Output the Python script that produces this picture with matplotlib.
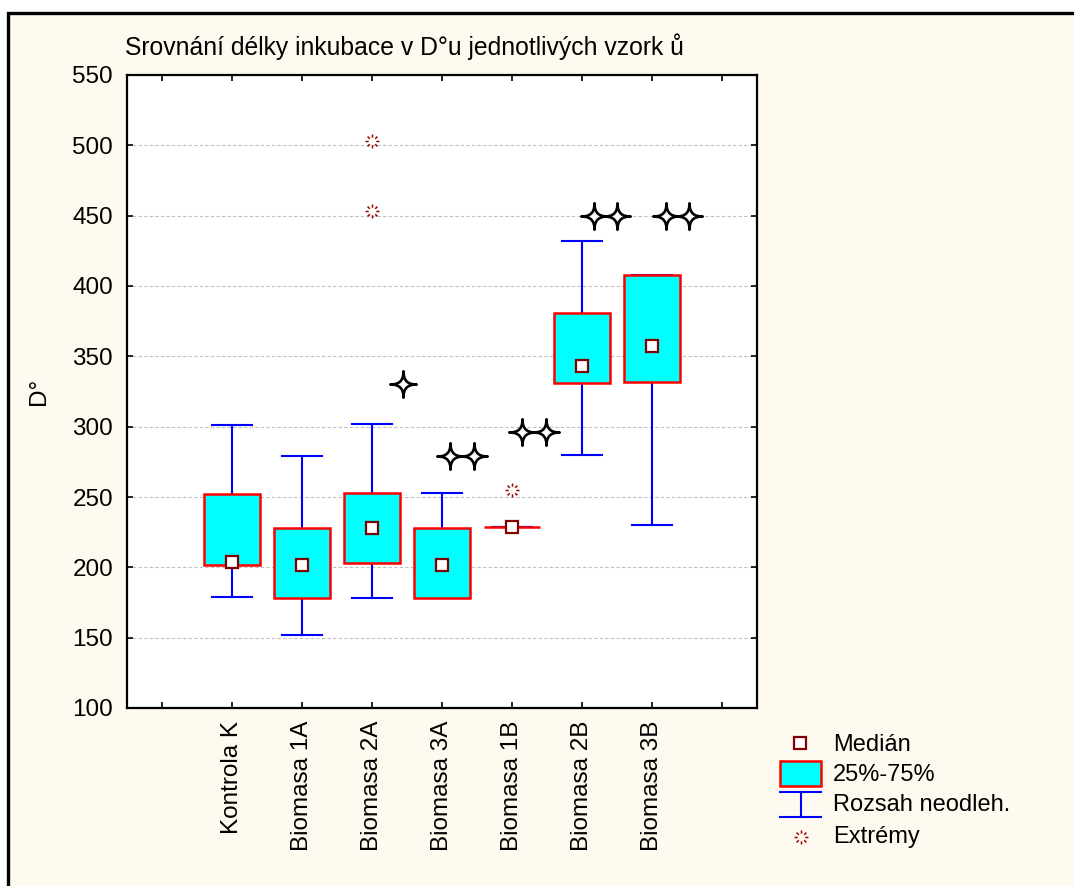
import numpy as np
import matplotlib
matplotlib.use("Agg")
import matplotlib.pyplot as plt
from matplotlib.path import Path
from matplotlib.patches import Rectangle
from matplotlib.lines import Line2D

plt.rcParams['font.family'] = ['Liberation Sans', 'DejaVu Sans']

# ---- data ----
categories = ['Kontrola K', 'Biomasa 1A', 'Biomasa 2A', 'Biomasa 3A',
              'Biomasa 1B', 'Biomasa 2B', 'Biomasa 3B']
medians = [204, 202, 228, 202, 229, 343, 357]
q1 = [202, 178, 203, 178, 229, 331, 332]
q3 = [252, 228, 253, 228, 229, 381, 408]
whisker_lo = [179, 152, 178, 178, 229, 280, 230]
whisker_hi = [301, 279, 302, 253, 229, 432, 408]
extremes = {'Biomasa 2A': [503, 453], 'Biomasa 1B': [255]}
# significance stars: group, horizontal offset (in category units), value
star_groups = ['Biomasa 2A', 'Biomasa 3A', 'Biomasa 3A', 'Biomasa 1B', 'Biomasa 1B',
               'Biomasa 2B', 'Biomasa 2B', 'Biomasa 3B', 'Biomasa 3B']
star_offsets = [0.44, 0.11, 0.46, 0.14, 0.48, 0.17, 0.50, 0.20, 0.53]
star_values = [330, 279, 279, 296, 296, 450, 450, 450, 450]
yticks = [100, 150, 200, 250, 300, 350, 400, 450, 500, 550]

W, H = 1074, 886
CREAM = '#FFFAF0'
FS = 17.5
fig = plt.figure(figsize=(W / 100, H / 100), dpi=100, facecolor='white')

def fx(px):
    return px / W

def fy(py):
    return 1 - py / H

# outer border/background
fig.add_artist(Rectangle((fx(8), -0.05), 1.2, fy(13) + 0.05, transform=fig.transFigure,
                         facecolor=CREAM, edgecolor='black', linewidth=2.4, zorder=-10))

ax = fig.add_axes([fx(127), fy(708), fx(757) - fx(127), fy(75) - fy(708)])
ax.set_facecolor('white')

# custom markers
k = 0.3
tips = [(0, 1), (1, 0), (0, -1), (-1, 0)]
sv = [tips[0]]
sc = [Path.MOVETO]
for i in range(4):
    p0 = np.array(tips[i], float)
    p1 = np.array(tips[(i + 1) % 4], float)
    sv += [tuple(p0 * k), tuple(p1 * k), tuple(p1)]
    sc += [Path.CURVE4, Path.CURVE4, Path.CURVE4]
sv.append(tips[0])
sc.append(Path.CLOSEPOLY)
star_path = Path(sv, sc)

verts, codes = [], []
for ang in np.deg2rad(np.arange(0, 360, 45)):
    verts += [(0.55 * np.cos(ang), 0.55 * np.sin(ang)), (1.0 * np.cos(ang), 1.0 * np.sin(ang))]
    codes += [Path.MOVETO, Path.LINETO]
burst_path = Path(verts, codes)

pos = np.arange(1, len(categories) + 1)
stats = []
for i, cat in enumerate(categories):
    stats.append(dict(med=medians[i], q1=q1[i], q3=q3[i], whislo=whisker_lo[i],
                      whishi=whisker_hi[i], fliers=extremes.get(cat, []), label=cat))

ax.bxp(stats, positions=pos, widths=0.8, capwidths=0.57, patch_artist=True,
       boxprops=dict(facecolor='#00FFFF', edgecolor='#FF0000', linewidth=1.8, zorder=3),
       whiskerprops=dict(color='#0000FF', linewidth=1.5, zorder=2),
       capprops=dict(color='#0000FF', linewidth=1.5, zorder=2),
       medianprops=dict(linewidth=0),
       flierprops=dict(marker=burst_path, markersize=10, markeredgecolor='#990000',
                       markerfacecolor='none', markeredgewidth=1.1, linestyle='none', zorder=4))

ax.plot(pos, medians, linestyle='none', marker='s', markersize=8.5,
        markerfacecolor='white', markeredgecolor='#800000', markeredgewidth=1.6, zorder=5)

star_x = [categories.index(g) + 1 + o for g, o in zip(star_groups, star_offsets)]
ax.plot(star_x, star_values, linestyle='none', marker=star_path, markersize=19,
        markerfacecolor='white', markeredgecolor='black', markeredgewidth=1.9, zorder=6)

ax.set_xlim(-0.5, 8.5)
ax.set_ylim(100, 550)
ax.set_xticks(np.arange(0, 9))
ax.set_xticklabels([''] + categories + [''], rotation=90, fontsize=FS)
ax.set_yticks(yticks)
ax.set_yticklabels([str(v) for v in yticks], fontsize=FS)
ax.tick_params(axis='both', direction='in', length=4, width=1.2, top=True, right=True)
ax.tick_params(axis='x', pad=9)
ax.tick_params(axis='y', pad=10)
ax.yaxis.grid(True, linestyle=(0, (3, 2)), color='#C0C0C0', linewidth=0.8, zorder=0)
ax.set_axisbelow(True)
for s in ax.spines.values():
    s.set_linewidth(1.6)
ax.set_ylabel('D°', fontsize=FS, labelpad=16)

fig.text(fx(125), fy(47), 'Srovnání délky inkubace v D°u jednotlivých vzork ů',
         fontsize=17.8, ha='left', va='center')

# legend (drawn manually)
tf = fig.transFigure
fig.add_artist(Line2D([fx(800)], [fy(743)], marker='s', markersize=8, markerfacecolor='white',
                      markeredgecolor='#800000', markeredgewidth=1.6, transform=tf))
fig.add_artist(Rectangle((fx(780), fy(786)), fx(821) - fx(780), fy(761) - fy(786), transform=tf,
                         facecolor='#00FFFF', edgecolor='#FF0000', linewidth=1.8))
for yy in (792, 817):
    fig.add_artist(Line2D([fx(780), fx(821)], [fy(yy), fy(yy)], color='#0000FF', linewidth=1.5,
                          transform=tf))
fig.add_artist(Line2D([fx(801), fx(801)], [fy(792), fy(817)], color='#0000FF', linewidth=1.5,
                      transform=tf))
fig.add_artist(Line2D([fx(801)], [fy(837)], marker=burst_path, markersize=10,
                      markeredgecolor='#990000', markerfacecolor='none', markeredgewidth=1.1,
                      linestyle='none', transform=tf))
for txt, yy in [('Medián', 745), ('25%-75%', 775), ('Rozsah neodleh.', 805), ('Extrémy', 837)]:
    fig.text(fx(833), fy(yy), txt, fontsize=17, ha='left', va='center')

fig.savefig('out.png', dpi=100, facecolor=fig.get_facecolor())
